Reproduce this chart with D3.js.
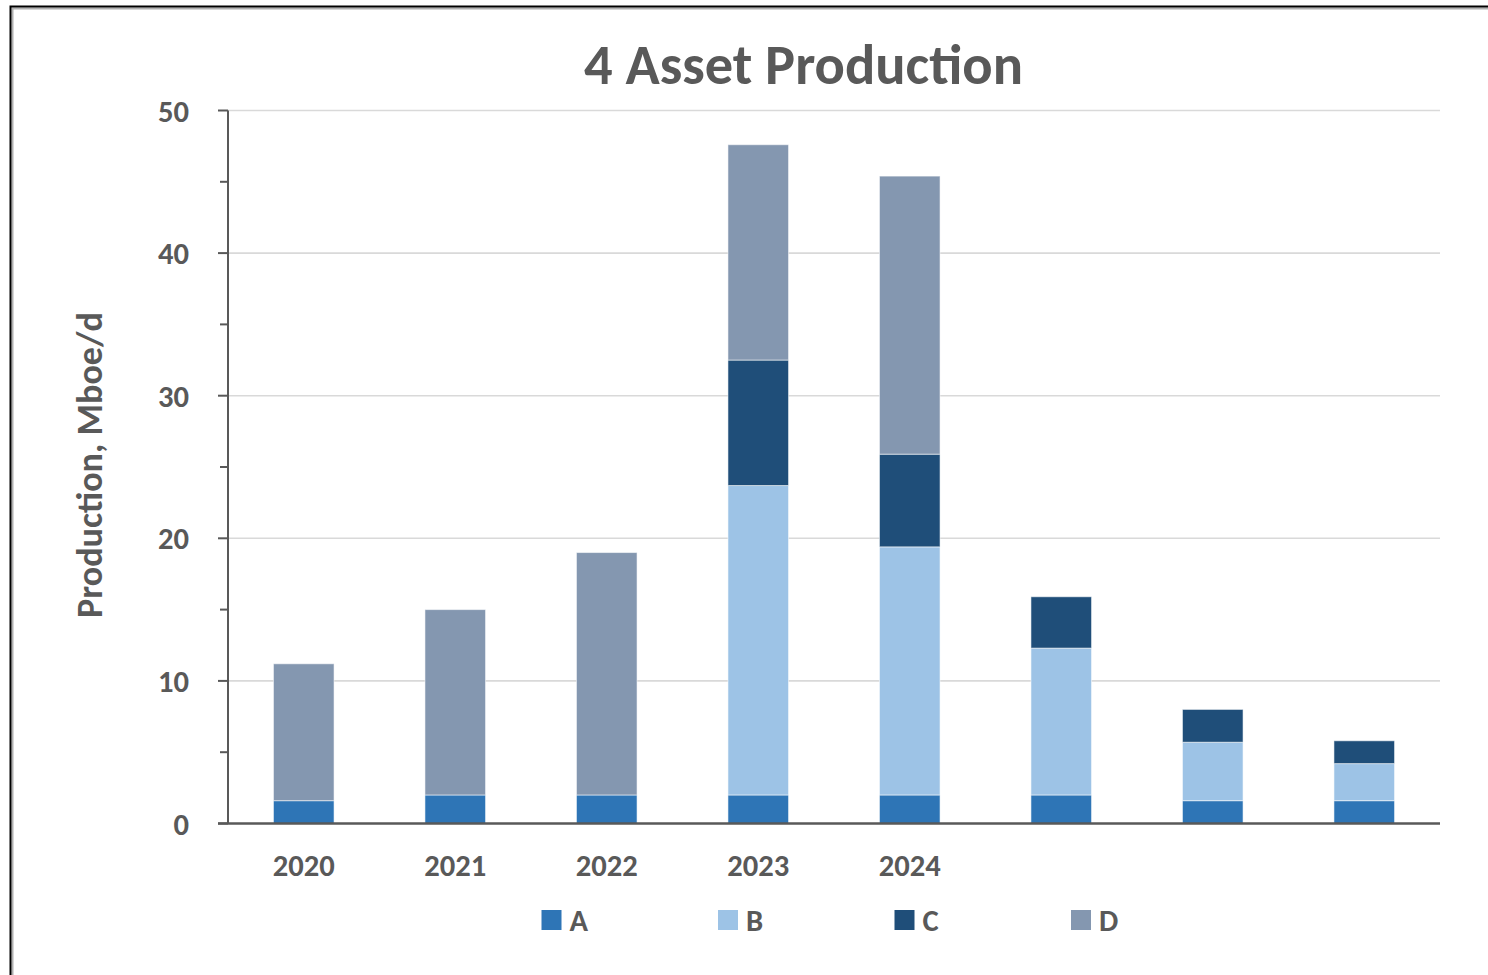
<!DOCTYPE html>
<html>
<head>
<meta charset="utf-8">
<script src="https://cdn.jsdelivr.net/npm/d3@7"></script>
<style>
  html, body { margin: 0; padding: 0; background: #ffffff; }
  svg { display: block; }
  text { font-family: Carlito, Calibri, Lato, "Open Sans", sans-serif; font-weight: bold; fill: #595959; }
</style>
</head>
<body>
<svg id="chart" width="1488" height="975"></svg>
<script>
const categories = ["2020", "2021", "2022", "2023", "2024", "", "", ""];
const seriesNames = ["A", "B", "C", "D"];
const seriesA = [1.6, 2.0, 2.0, 2.0, 2.0, 2.0, 1.6, 1.6];
const seriesB = [0, 0, 0, 21.7, 17.4, 10.3, 4.1, 2.6];
const seriesC = [0, 0, 0, 8.8, 6.5, 3.6, 2.3, 1.6];
const seriesD = [9.6, 13.0, 17.0, 15.1, 19.5, 0, 0, 0];
const yTicks = [0, 10, 20, 30, 40, 50];
const yMinorTicks = [5, 15, 25, 35, 45];
const colors = ["#2E75B6", "#9DC3E6", "#1F4E79", "#8497B0"];
const titleText = "4 Asset Production";
const yLabelText = "Production, Mboe/d";

const svg = d3.select("#chart");

// helper: font size that gives a target width
function sizeFor(str, target, base) {
  const t = svg.append("text").style("font-size", base + "px").text(str);
  const w = t.node().getComputedTextLength();
  t.remove();
  return base * target / w;
}
const labelSize = sizeFor("2020", 62, 30);

// frame
svg.append("rect").attr("x", 12.5).attr("y", 8.5).attr("width", 1500).attr("height", 1000)
  .attr("fill", "none").attr("stroke", "#b0b0b0").attr("stroke-width", 2);
svg.append("rect").attr("x", 10.5).attr("y", 6.5).attr("width", 1500).attr("height", 1000)
  .attr("fill", "none").attr("stroke", "#000000").attr("stroke-width", 2);

const x = d3.scaleBand().domain(d3.range(categories.length)).range([228, 1440])
  .paddingInner(0.6).paddingOuter(0.3);
const y = d3.scaleLinear().domain([0, 50]).range([823.5, 110.5]);

// gridlines
svg.append("g").selectAll("line").data(yTicks.filter(d => d > 0)).join("line")
  .attr("x1", 228).attr("x2", 1440)
  .attr("y1", d => y(d)).attr("y2", d => y(d))
  .attr("stroke", "#d9d9d9").attr("stroke-width", 1.6);

// stacked bars
const rows = categories.map((c, i) => ({ i, A: seriesA[i], B: seriesB[i], C: seriesC[i], D: seriesD[i] }));
const stack = d3.stack().keys(seriesNames)(rows);
svg.append("g").selectAll("g").data(stack).join("g")
  .attr("fill", (d, k) => colors[k])
  .selectAll("rect").data(d => d.filter(p => p[1] - p[0] > 0)).join("rect")
  .attr("x", d => x(d.data.i))
  .attr("width", x.bandwidth())
  .attr("y", d => y(d[1]))
  .attr("height", d => y(d[0]) - y(d[1]))
  .attr("stroke", "rgba(255,255,255,0.55)").attr("stroke-width", 1);

// y axis
const yAxis = svg.append("g").attr("transform", "translate(228,0)");
yAxis.append("line").attr("x1", 0).attr("x2", 0).attr("y1", y(50)).attr("y2", y(0))
  .attr("stroke", "#595959").attr("stroke-width", 2);
yAxis.selectAll("line.major").data(yTicks).join("line").attr("class", "major")
  .attr("x1", -10).attr("x2", 0).attr("y1", d => y(d)).attr("y2", d => y(d))
  .attr("stroke", "#595959").attr("stroke-width", 2);
yAxis.selectAll("line.minor").data(yMinorTicks).join("line").attr("class", "minor")
  .attr("x1", -8).attr("x2", 0).attr("y1", d => y(d)).attr("y2", d => y(d))
  .attr("stroke", "#595959").attr("stroke-width", 2);
yAxis.selectAll("text").data(yTicks).join("text")
  .attr("x", -39).attr("y", d => y(d)).attr("dy", "0.36em")
  .attr("text-anchor", "end").style("font-size", labelSize + "px")
  .text(d => d);

// x axis
svg.append("line").attr("x1", 218).attr("x2", 1440).attr("y1", y(0)).attr("y2", y(0))
  .attr("stroke", "#595959").attr("stroke-width", 2.5);
svg.append("g").selectAll("text").data(categories).join("text")
  .attr("x", (d, i) => x(i) + x.bandwidth() / 2).attr("y", 876)
  .attr("text-anchor", "middle").style("font-size", labelSize + "px")
  .text(d => d);

// title
svg.append("text").attr("x", 803.5).attr("y", 84)
  .attr("text-anchor", "middle").style("font-size", sizeFor(titleText, 439, 48) + "px").text(titleText);

// y label
svg.append("text").attr("transform", "translate(102,465) rotate(-90)")
  .attr("text-anchor", "middle").style("font-size", sizeFor(yLabelText, 306, 30) + "px").text(yLabelText);

// legend
const legendX = d3.scalePoint().domain(seriesNames).range([541.5, 1071]);
const lg = svg.append("g").selectAll("g").data(seriesNames).join("g")
  .attr("transform", d => `translate(${legendX(d)},910)`);
lg.append("rect").attr("width", 20).attr("height", 20).attr("fill", (d, k) => colors[k]);
lg.append("text").attr("x", 28).attr("y", 21).style("font-size", labelSize + "px").text(d => d);
</script>
</body>
</html>
